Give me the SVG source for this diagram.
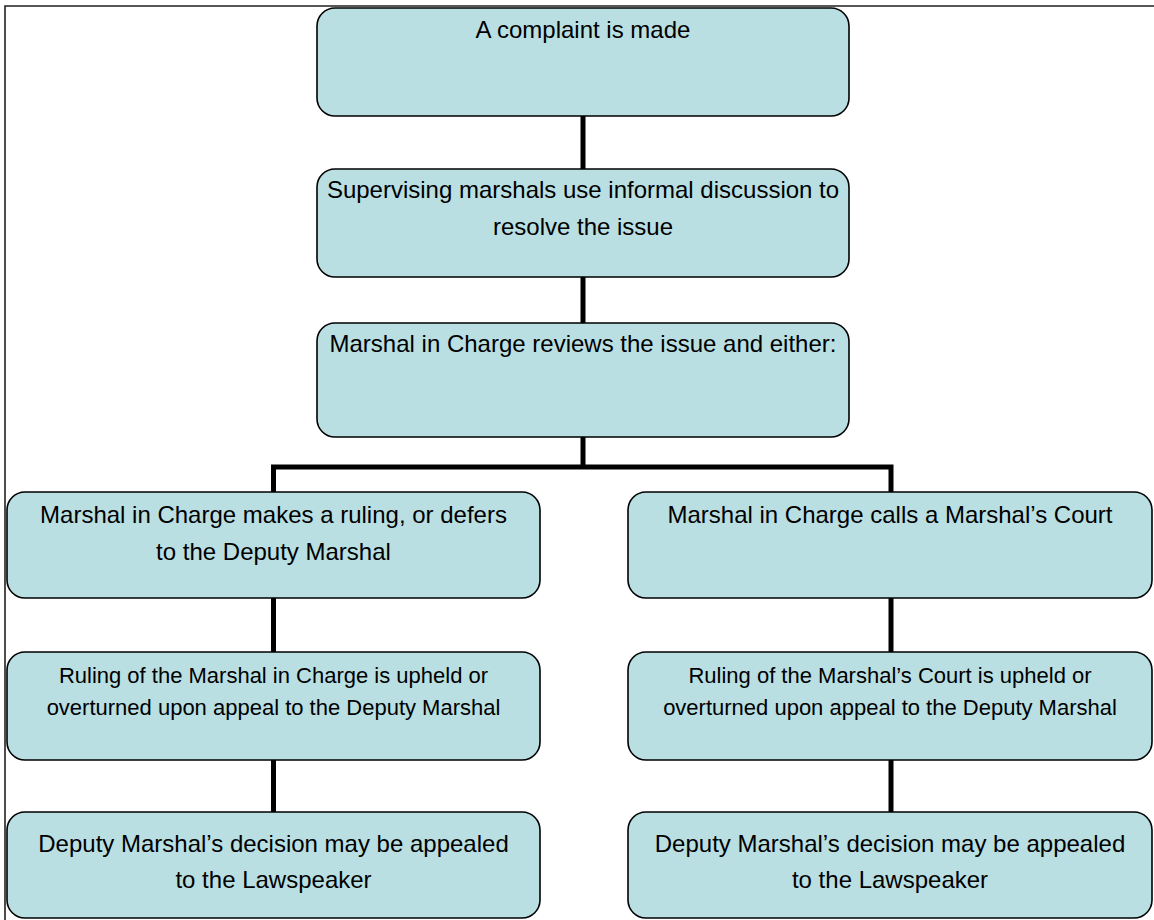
<svg xmlns="http://www.w3.org/2000/svg" width="1154" height="920" viewBox="0 0 1154 920">
<style>
.box{fill:#b9dfe3;stroke:#000;stroke-width:1.6}
.t{font-family:"Liberation Sans",Arial,sans-serif;font-size:24px;fill:#000;text-anchor:middle}
.s{font-size:22px}
.c{fill:none;stroke:#000;stroke-width:5}
</style>
<rect width="1154" height="920" fill="#fff"/>
<path d="M5,920 V6 H1154" fill="none" stroke="#222" stroke-width="1.6"/>
<g id="connectors">
<path class="c" d="M583,116 V169"/>
<path class="c" d="M583,277 V323"/>
<path class="c" d="M583,437 V467"/>
<path class="c" d="M273.5,492 V467 H891 V492"/>
<path class="c" d="M273.5,598 V652"/>
<path class="c" d="M891,598 V652"/>
<path class="c" d="M273.5,760 V812"/>
<path class="c" d="M891,760 V812"/>
</g>
<g id="n1"><rect class="box" x="317" y="8" width="532" height="108" rx="18"/><text class="t" x="583" y="38">A complaint is made</text></g>
<g id="n2"><rect class="box" x="317" y="169" width="532" height="108" rx="18"/><text class="t" x="583" y="198">Supervising marshals use informal discussion to</text><text class="t" x="583" y="235">resolve the issue</text></g>
<g id="n3"><rect class="box" x="317" y="323" width="532" height="114" rx="18"/><text class="t" x="583" y="352">Marshal in Charge reviews the issue and either:</text></g>
<g id="n4"><rect class="box" x="7" y="492" width="533" height="106" rx="18"/><text class="t" x="273.5" y="523">Marshal in Charge makes a ruling, or defers</text><text class="t" x="273.5" y="560">to the Deputy Marshal</text></g>
<g id="n5"><rect class="box" x="628" y="492" width="524" height="106" rx="18"/><text class="t" x="890" y="523">Marshal in Charge calls a Marshal’s Court</text></g>
<g id="n6"><rect class="box" x="7" y="652" width="533" height="108" rx="18"/><text class="t s" x="273.5" y="683">Ruling of the Marshal in Charge is upheld or</text><text class="t s" x="273.5" y="715">overturned upon appeal to the Deputy Marshal</text></g>
<g id="n7"><rect class="box" x="628" y="652" width="524" height="108" rx="18"/><text class="t s" x="890" y="683">Ruling of the Marshal’s Court is upheld or</text><text class="t s" x="890" y="715">overturned upon appeal to the Deputy Marshal</text></g>
<g id="n8"><rect class="box" x="7" y="812" width="533" height="106" rx="18"/><text class="t" x="273.5" y="852">Deputy Marshal’s decision may be appealed</text><text class="t" x="273.5" y="888">to the Lawspeaker</text></g>
<g id="n9"><rect class="box" x="628" y="812" width="524" height="106" rx="18"/><text class="t" x="890" y="852">Deputy Marshal’s decision may be appealed</text><text class="t" x="890" y="888">to the Lawspeaker</text></g>
</svg>
